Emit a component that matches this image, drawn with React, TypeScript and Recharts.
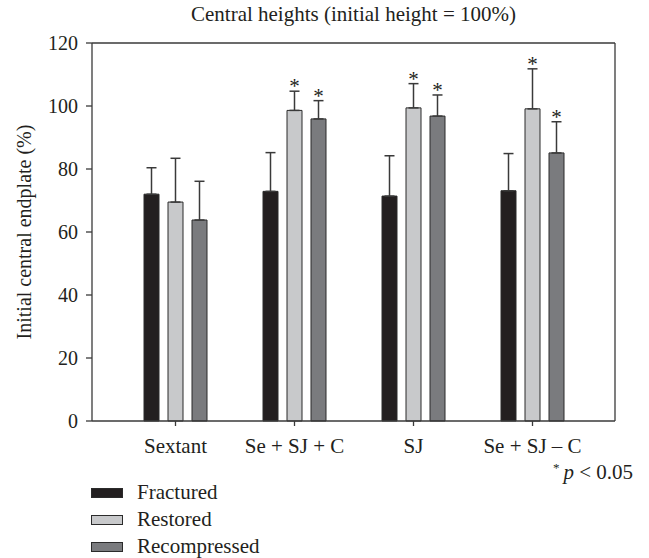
import React from 'react';
import { BarChart, Bar, XAxis, YAxis, ErrorBar, LabelList, Legend } from 'recharts';

const categories = ['Sextant', 'Se + SJ + C', 'SJ', 'Se + SJ – C'];
const fractured = [72.0, 72.9, 71.4, 73.1];
const fracturedErr = [8.4, 12.3, 12.8, 11.8];
const restored = [69.5, 98.6, 99.4, 99.1];
const restoredErr = [13.9, 6.1, 7.7, 12.7];
const recompressed = [63.8, 95.9, 96.8, 85.1];
const recompressedErr = [12.3, 5.8, 6.7, 9.9];
const restoredSig = [false, true, true, true];
const recompressedSig = [false, true, true, true];
const yTicks = [0, 20, 40, 60, 80, 100, 120];

const seriesNames = ['Fractured', 'Restored', 'Recompressed'];
const seriesColors = ['#231f20', '#c8c9cb', '#7a7b7e'];

const FONT = '"Liberation Serif", "Times New Roman", serif';
const TEXT = '#231f20';
const AXIS = '#3a3a3a';

const data = categories.map((c, i) => ({
  category: c,
  fractured: fractured[i],
  fracturedErr: [0, fracturedErr[i]],
  restored: restored[i],
  restoredErr: [0, restoredErr[i]],
  recompressed: recompressed[i],
  recompressedErr: [0, recompressedErr[i]],
}));

const makeStar = (errs: number[], sig: boolean[]) => (props: any) => {
  const index = props.index;
  if (index == null || !sig[index]) return null;
  const vb = props.viewBox || props;
  const x = Number(vb.x);
  const y = Number(vb.y);
  const width = Number(vb.width);
  const height = Number(vb.height);
  const value = Number(props.value);
  const top = Math.min(y, y + height);
  const pxPerUnit = Math.abs(height) / value;
  const errTop = top - errs[index] * pxPerUnit;
  return (
    <text x={x + width / 2} y={errTop + 2} textAnchor="middle" fontSize={21} fontFamily={FONT} fill={TEXT}>
      *
    </text>
  );
};

const renderLegend = () => (
  <div style={{ fontFamily: FONT, fontSize: 21, color: TEXT }}>
    {seriesNames.map((n, i) => (
      <div key={n} style={{ display: 'flex', alignItems: 'center', height: 27 }}>
        <div
          style={{
            width: 30,
            height: 8,
            background: seriesColors[i],
            border: '1px solid #2b2b2b',
            marginRight: 14,
          }}
        />
        <span>{n}</span>
      </div>
    ))}
  </div>
);

export default function App() {
  return (
    <div style={{ position: 'absolute', left: 0, top: 0, width: 649, height: 558, background: '#fff' }}>
      <BarChart
        width={649}
        height={558}
        data={data}
        margin={{ top: 42, right: 33, left: 0, bottom: 107 }}
        barSize={15}
        barGap={9}
      >
        <XAxis
          dataKey="category"
          padding={{ left: 24, right: 23 }}
          height={30}
          tickSize={5}
          tickMargin={12}
          axisLine={{ stroke: AXIS, strokeWidth: 1.3 }}
          tickLine={{ stroke: AXIS, strokeWidth: 1.3 }}
          tick={{ fill: TEXT, fontSize: 21, fontFamily: FONT }}
          interval={0}
        />
        <XAxis
          xAxisId="top"
          orientation="top"
          dataKey="category"
          height={1}
          tick={false}
          tickLine={false}
          axisLine={{ stroke: AXIS, strokeWidth: 1.3 }}
          label={{
            content: (p: any) => {
              const vb = p.viewBox || {};
              return (
                <text x={vb.x + vb.width / 2} y={21} textAnchor="middle" fontSize={21} fontFamily={FONT} fill={TEXT}>
                  Central heights (initial height = 100%)
                </text>
              );
            },
          }}
        />
        <YAxis
          domain={[0, 120]}
          ticks={yTicks}
          width={92}
          tickSize={6}
          tickMargin={8}
          axisLine={{ stroke: AXIS, strokeWidth: 1.3 }}
          tickLine={{ stroke: AXIS, strokeWidth: 1.3 }}
          tick={{ fill: TEXT, fontSize: 20, fontFamily: FONT }}
          label={{
            content: (p: any) => {
              const vb = p.viewBox || {};
              const cy = vb.y + vb.height / 2;
              const cx = 31;
              return (
                <text x={cx} y={cy} transform={`rotate(-90 ${cx} ${cy})`} textAnchor="middle" fontSize={20} fontFamily={FONT} fill={TEXT}>
                  Initial central endplate (%)
                </text>
              );
            },
          }}
        />
        <YAxis
          yAxisId="right"
          orientation="right"
          domain={[0, 120]}
          width={1}
          tick={false}
          tickLine={false}
          axisLine={{ stroke: AXIS, strokeWidth: 1.3 }}
        />
        <Legend
          layout="vertical"
          verticalAlign="middle"
          align="center"
          wrapperStyle={{ left: 91, top: 479, width: 260, height: 81 }}
          content={renderLegend}
        />
        <Bar dataKey="fractured" name="Fractured" fill={seriesColors[0]} stroke="#2b2b2b" strokeWidth={1} isAnimationActive={false}>
          <ErrorBar dataKey="fracturedErr" width={5} stroke={AXIS} strokeWidth={1.5} direction="y" />
        </Bar>
        <Bar dataKey="restored" name="Restored" fill={seriesColors[1]} stroke="#2b2b2b" strokeWidth={1} isAnimationActive={false}>
          <ErrorBar dataKey="restoredErr" width={5} stroke={AXIS} strokeWidth={1.5} direction="y" />
          <LabelList dataKey="restored" content={makeStar(restoredErr, restoredSig)} />
        </Bar>
        <Bar dataKey="recompressed" name="Recompressed" fill={seriesColors[2]} stroke="#2b2b2b" strokeWidth={1} isAnimationActive={false}>
          <ErrorBar dataKey="recompressedErr" width={5} stroke={AXIS} strokeWidth={1.5} direction="y" />
          <LabelList dataKey="recompressed" content={makeStar(recompressedErr, recompressedSig)} />
        </Bar>
      </BarChart>
      <div
        style={{
          position: 'absolute',
          left: 553,
          top: 461,
          height: 22,
          fontFamily: FONT,
          fontSize: 21,
          color: TEXT,
          whiteSpace: 'nowrap',
          lineHeight: '22px',
          display: 'flex',
          alignItems: 'flex-start',
        }}
      >
        <span style={{ fontSize: 13, lineHeight: '13px', marginRight: 4 }}>*</span>
        <span>
          <i>p</i> &lt; 0.05
        </span>
      </div>
    </div>
  );
}
